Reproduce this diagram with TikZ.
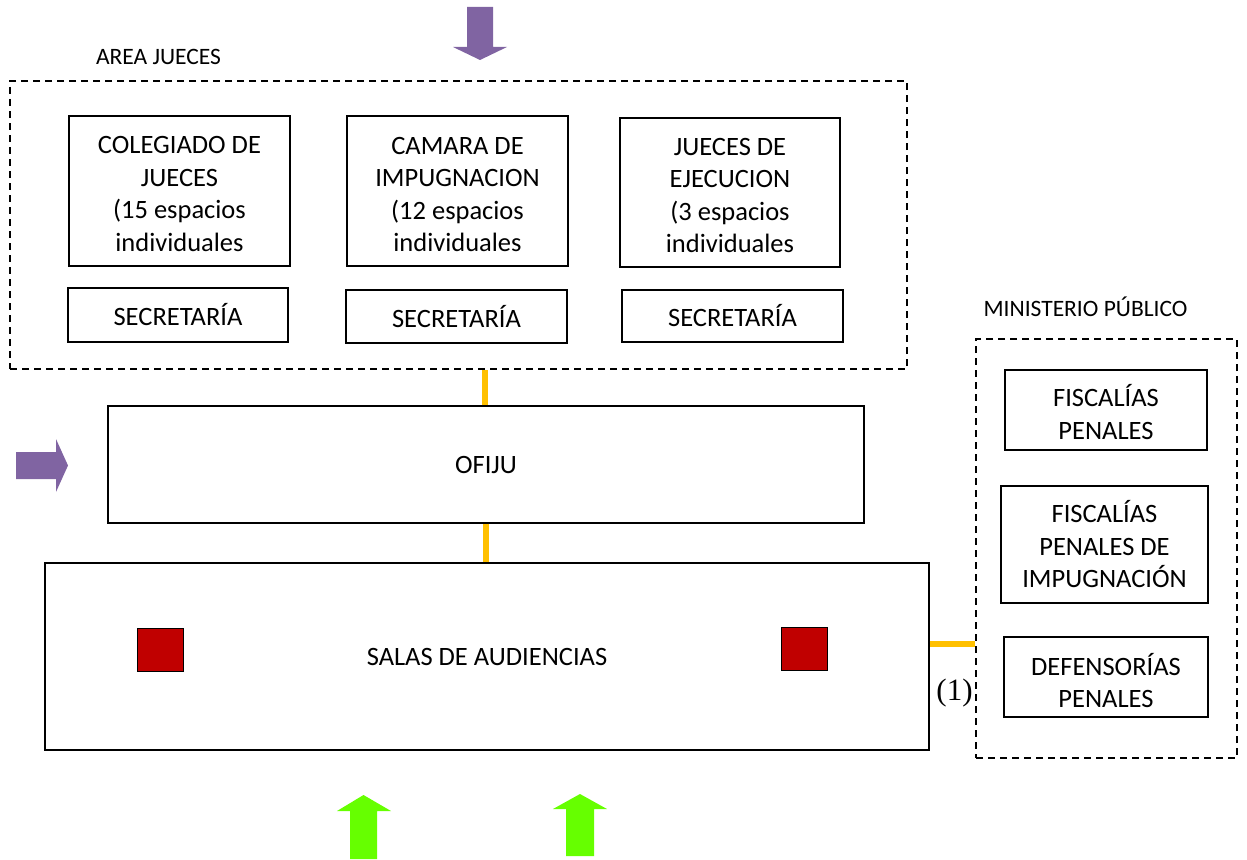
\documentclass[tikz,border=0pt]{standalone}
\usepackage{fontspec}
\setmainfont{Carlito}
\newfontfamily\serifnum{Liberation Serif}
\definecolor{purp}{HTML}{8064A2}
\definecolor{lgreen}{HTML}{66FF00}
\definecolor{orng}{HTML}{FFC000}
\definecolor{dred}{HTML}{C00000}
\tikzset{
  box/.style={draw, line width=1.8pt, rectangle, inner sep=0pt, align=center,
    font=\fontsize{26.5}{32.5}\selectfont},
  boxtext/.style={inner sep=0pt, align=center, font=\fontsize{26.5}{32.5}\selectfont},
  dbox/.style={draw, line width=1.8pt, dash pattern=on 7pt off 5pt, rectangle, inner sep=0pt},
  lbl/.style={font=\fontsize{23.5}{27}\selectfont, inner sep=0pt},
  conn/.style={draw=orng, line width=6pt},
  redsq/.style={fill=dred, draw=black, line width=0.6pt, minimum width=46pt, minimum height=43pt, inner sep=0pt},
}
\begin{document}
\begin{tikzpicture}[x=1pt,y=-1pt]
\useasboundingbox (0,0) rectangle (1247,859);
% dashed groups
\node[dbox, minimum width=897pt, minimum height=288pt] (area) at (458.5,225) {};
\node[dbox, minimum width=261pt, minimum height=419pt] (mp) at (1106.5,548.5) {};
\node[lbl] (areal) at (158.5,57) {AREA JUECES};
\node[lbl] (mpl) at (1085.5,307) {MINISTERIO PÚBLICO};
% judges boxes
\node[box, minimum width=221pt, minimum height=150pt] (col) at (179.5,191) {};
\node[boxtext] (colt) at ([yshift=-3pt]col.center) {COLEGIADO DE\\JUECES\\(15 espacios\\individuales};
\node[box, minimum width=221pt, minimum height=150pt] (cam) at (457.5,191) {};
\node[boxtext] (camt) at ([yshift=-3.5pt]cam.center) {CAMARA DE\\IMPUGNACION\\(12 espacios\\individuales};
\node[box, minimum width=220pt, minimum height=149pt] (eje) at (730,192.5) {};
\node[boxtext] (ejet) at ([yshift=-3pt]eje.center) {JUECES DE\\EJECUCION\\(3 espacios\\individuales};
\node[box, minimum width=220pt, minimum height=54pt] (sec1) at (178,315) {SECRETARÍA};
\node[box, minimum width=221pt, minimum height=53pt] (sec2) at (456.5,316.5) {SECRETARÍA};
\node[box, minimum width=221pt, minimum height=52pt] (sec3) at (732.5,316) {SECRETARÍA};
% ofiju and salas
\node[box, minimum width=756pt, minimum height=117pt] (ofiju) at (486,464.5) {OFIJU};
\node[box, minimum width=884pt, minimum height=187pt] (salas) at (487,656.5) {SALAS DE AUDIENCIAS};
\node[redsq] (r1) at (160,649.5) {};
\node[redsq] (r2) at (804,648.5) {};
% ministerio boxes
\node[box, minimum width=202pt, minimum height=80pt] (fp) at (1106,410) {};
\node[boxtext] (fpt) at ([yshift=-2pt]fp.center) {FISCALÍAS\\PENALES};
\node[box, minimum width=207pt, minimum height=117pt] (fpi) at (1104.5,544.5) {FISCALÍAS\\PENALES DE\\IMPUGNACIÓN};
\node[box, minimum width=204pt, minimum height=80pt] (def) at (1106,677) {};
\node[boxtext] (deft) at ([yshift=-3.5pt]def.center) {DEFENSORÍAS\\PENALES};
% connectors
\draw[conn] (ofiju.north -| 485,0) -- (area.south -| 485,0);
\draw[conn] (ofiju.south) -- (ofiju.south |- salas.north);
\coordinate (c1) at ([yshift=12.5pt]salas.east);
\draw[conn] (c1) -- (mp.west |- c1);
\node[font=\serifnum\fontsize{31}{34}\selectfont, inner sep=0pt] (one) at (954.5,693) {(1)};
% block arrows
\fill[purp] (467,7) -- (493,7) -- (493,47) -- (507,47) -- (480,60) -- (453,47) -- (467,47) -- cycle;
\fill[purp] (16,452) -- (56,452) -- (56,439) -- (68,465.5) -- (56,492) -- (56,479) -- (16,479) -- cycle;
\fill[lgreen] (350,859) -- (350,811) -- (337,811) -- (363.5,795) -- (391,811) -- (377,811) -- (377,859) -- cycle;
\fill[lgreen] (566,856) -- (566,809) -- (553,809) -- (580,794) -- (607,809) -- (594,809) -- (594,856) -- cycle;
\end{tikzpicture}
\end{document}
